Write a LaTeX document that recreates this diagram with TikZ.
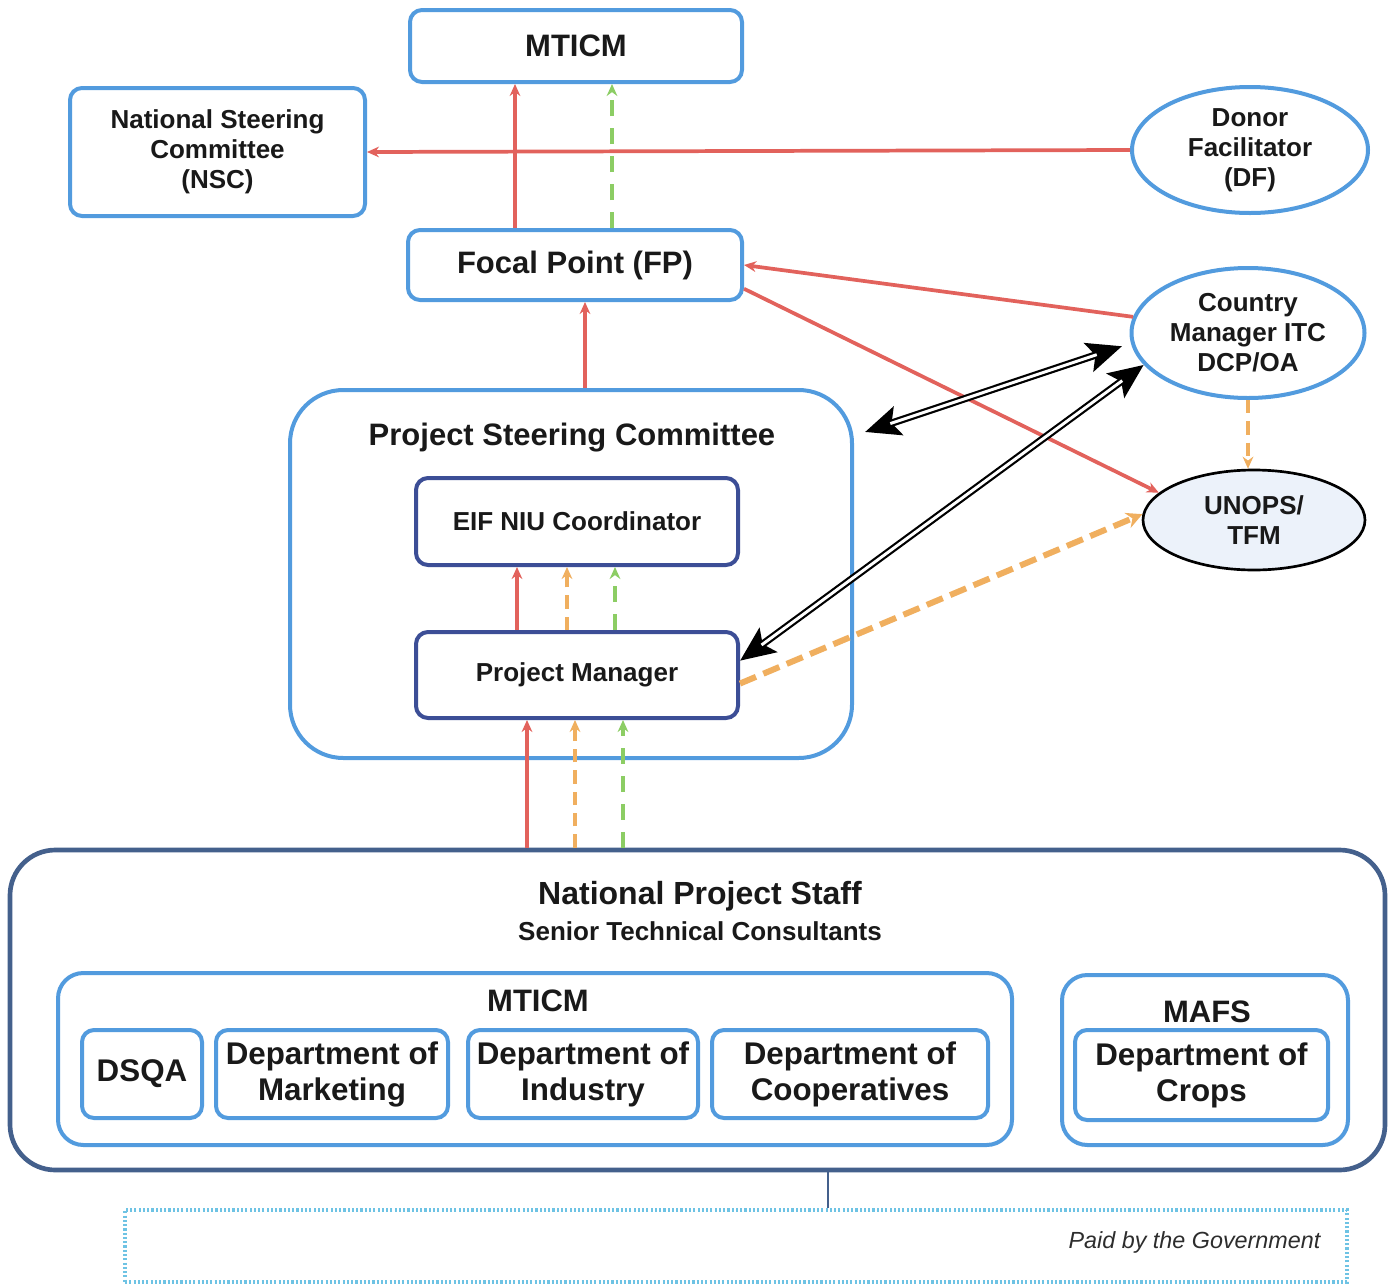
\documentclass[tikz,border=0pt]{standalone}
\usepackage{fontspec}
\setmainfont{Liberation Sans}
\usetikzlibrary{arrows.meta,shapes.geometric,calc}
\definecolor{lb}{RGB}{82,155,222}
\definecolor{db}{RGB}{60,78,150}
\definecolor{nb}{RGB}{68,96,140}
\definecolor{rd}{RGB}{226,98,92}
\definecolor{gr}{RGB}{140,205,100}
\definecolor{og}{RGB}{240,175,95}
\definecolor{uf}{RGB}{236,242,250}
\definecolor{dt}{RGB}{110,195,228}
\definecolor{txt}{RGB}{25,25,25}
\begin{document}
\begin{tikzpicture}[x=0.75pt,y=-0.75pt,
  box/.style={draw=lb, line width=3pt, rounded corners=9pt, fill=white, align=center, inner sep=0pt, text=txt},
  dbox/.style={box, draw=db},
  ell/.style={ellipse, draw=lb, line width=3pt, fill=white, align=center, inner sep=0pt, text=txt},
  big/.style={font=\bfseries\fontsize{23.25}{27}\selectfont, text=txt},
  dept/.style={font=\bfseries\fontsize{23.5}{27}\selectfont, text=txt},
  med/.style={font=\bfseries\fontsize{19.5}{22.5}\selectfont, text=txt},
  redarr/.style={draw=rd, line width=2.8pt, -{Stealth[length=9pt,width=8pt]}},
  grarr/.style={draw=gr, line width=2.5pt, dash pattern=on 12pt off 9pt, -{Stealth[length=9pt,width=8pt]}},
  ogarr/.style={draw=og, line width=2.6pt, dash pattern=on 10pt off 6pt, -{Stealth[length=9pt,width=8pt]}},
  ogthick/.style={draw=og, line width=4.5pt, dash pattern=on 13pt off 6pt, -{Stealth[length=12pt,width=12pt]}},
  blk/.style={draw=black, line width=5.5pt, {Stealth[length=26pt,width=22pt,inset=5pt]}-{Stealth[length=26pt,width=22pt,inset=5pt]}},
  blkin/.style={draw=white, line width=2.2pt}
]
\useasboundingbox (0,0) rectangle (1393,1285);

% top level
\node[box, big, minimum width=249pt, minimum height=54pt] (mticm) at (576,46) {MTICM};
\node[box, med, minimum width=221.25pt, minimum height=96pt] (nsc) at (217.5,152) {National Steering\\Committee\\(NSC)};
\node[ell, med, minimum width=177pt, minimum height=94.5pt] (df) at (1250,150) {Donor\\Facilitator\\(DF)};
\node[box, big, minimum width=250.5pt, minimum height=52.5pt] (fp) at (575,265) {Focal Point (FP)};
\node[ell, med, minimum width=174.75pt, minimum height=97.5pt] (cm) at (1248,333) {Country\\Manager ITC\\DCP/OA};
\node[ell, med, draw=black, line width=2pt, fill=uf, minimum width=166.5pt, minimum height=75pt] (unops) at (1254,520) {UNOPS/\\TFM};

% project steering committee
\node[box, rounded corners=40pt, minimum width=421.5pt, minimum height=276pt] (psc) at (571,574) {};
\node[big] (psct) at (572,438) {Project Steering Committee};
\node[dbox, med, minimum width=241.5pt, minimum height=65.25pt] (eif) at (577,521.5) {EIF NIU Coordinator};
\node[dbox, med, minimum width=241.5pt, minimum height=64.5pt] (pm) at (577,675) {Project Manager};

% national project staff
\node[box, draw=nb, line width=3.5pt, rounded corners=34pt, minimum width=1031.25pt, minimum height=240pt] (nps) at (697.5,1010) {};
\node[font=\bfseries\fontsize{24}{28}\selectfont, text=txt] (npst) at (700,896) {National Project Staff};
\node[med] (npss) at (700,931) {Senior Technical Consultants};
\node[box, rounded corners=19pt, minimum width=715.5pt, minimum height=129pt] (mt2) at (535,1059) {};
\node[big] (mt2t) at (538,1001) {MTICM};
\node[box, dept, minimum width=90pt, minimum height=66pt] (dsqa) at (142,1074) {DSQA};
\node[box, dept, minimum width=174pt, minimum height=66pt] (mkt) at (332,1074) {Department of\\Marketing};
\node[box, dept, minimum width=172.5pt, minimum height=66pt] (ind) at (583,1074) {Department of\\Industry};
\node[box, dept, minimum width=207pt, minimum height=66pt] (coop) at (850,1074) {Department of\\Cooperatives};
\node[box, rounded corners=19pt, minimum width=214.5pt, minimum height=127.5pt] (mafs) at (1205,1060) {};
\node[big] (mafst) at (1207,1012) {MAFS};
\node[box, dept, minimum width=189.75pt, minimum height=67.5pt] (crops) at (1201.5,1075) {Department of\\Crops};

% government box
\node[draw=dt, line width=2.6pt, dash pattern=on 1.6pt off 1.6pt, minimum width=916.5pt, minimum height=54pt, inner sep=0pt] (gov) at (736,1246) {};
\node[anchor=east, font=\itshape\fontsize{17.5}{20}\selectfont, text={rgb,255:red,45;green,45;blue,45}] (govt) at (1325,1242) {Paid by the Government};
\coordinate (g1) at (828,1170);
\draw[draw=nb, line width=1.5pt] (g1 |- nps.south) -- (g1 |- gov.north);

% arrows top
\draw[redarr] (515,0 |- fp.north) -- (515,0 |- mticm.south);
\draw[grarr] (612,0 |- fp.north) -- (612,0 |- mticm.south);
\draw[redarr] (df.west) -- (nsc.east);
\draw[redarr] (cm.172) -- (fp.east);
\draw[redarr] (fp.-8) -- (unops.164);
\draw[redarr] (585,0 |- psc.north) -- (585,0 |- fp.south);

% black double arrows
\coordinate (a1) at (865,432);
\draw[blk, shorten >=7pt] (a1) -- (cm.185);
\draw[blkin, shorten <=20pt, shorten >=27pt] (a1) -- (cm.185);
\draw[blk] (pm.5) -- (cm.197);
\draw[blkin, shorten <=20pt, shorten >=20pt] (pm.5) -- (cm.197);

% orange
\draw[ogthick] (pm.-3) -- (unops.177);
\draw[ogarr] (cm.south) -- (cm.south |- unops.north);

% PM -> EIF
\draw[redarr] (517,0 |- pm.north) -- (517,0 |- eif.south);
\draw[ogarr] (567,0 |- pm.north) -- (567,0 |- eif.south);
\draw[grarr] (615,0 |- pm.north) -- (615,0 |- eif.south);

% NPS -> PM
\draw[redarr] (527,0 |- nps.north) -- (527,0 |- pm.south);
\draw[ogarr] (575,0 |- nps.north) -- (575,0 |- pm.south);
\draw[grarr] (623,0 |- nps.north) -- (623,0 |- pm.south);
\end{tikzpicture}
\end{document}
